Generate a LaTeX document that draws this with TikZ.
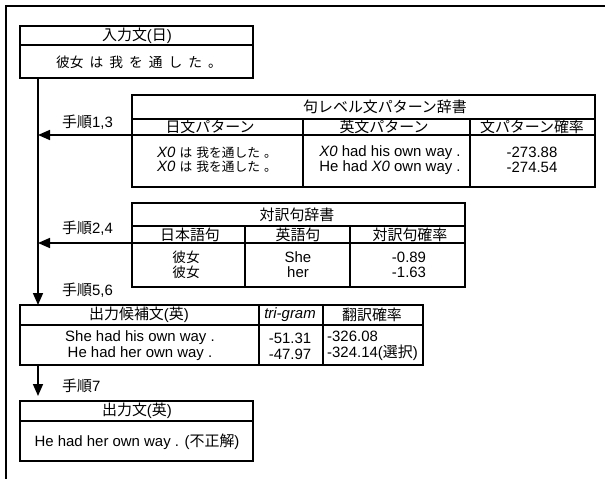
\documentclass[tikz,border=0pt]{standalone}
\usepackage{fontspec}
\setmainfont{Liberation Sans}
\newfontfamily\jp{Noto Sans CJK JP}
\newfontfamily\jps[Scale=0.92]{Noto Sans CJK JP}
\newfontfamily\jpt[Scale=0.85]{Noto Sans CJK JP}
\usetikzlibrary{arrows.meta}
\newcommand{\J}[1]{{\jp #1}}
\newcommand{\Js}[1]{{\jps #1}}
\newcommand{\Jt}[1]{{\jpt #1}}
\newcommand{\gapx}{\hspace{6bp}}
\begin{document}
\begin{tikzpicture}[x=1bp,y=-1bp,
  box/.style={draw,line width=1.7bp,inner sep=0,outer sep=0,anchor=north west},
  sepline/.style={line width=2bp},
  colline/.style={line width=1.6bp},
  txt/.style={inner sep=0,font=\fontsize{15}{16}\selectfont},
  arr/.style={line width=1.6bp,-{Triangle[length=12bp,width=10bp]}}]
\useasboundingbox (0,0) rectangle (605,479);
% outer frame
\draw[line width=2.2bp] (6,479) -- (6,6) -- (605,6);
% input box
\node[box,minimum width=233bp,minimum height=52bp] (inbox) at (20,26) {};
\draw[sepline] (20,45) -- (253,45);
\node[txt] (intitle) at (137,36) {\J{入力文}(\J{日})};
\node[txt] (intext) at (139,62) {\Js{彼女}\gapx\Js{は}\gapx\Js{我}\gapx\Js{を}\gapx\Js{通}\gapx\Js{し}\gapx\Js{た}\gapx\Js{。}};
% table 1
\node[box,minimum width=463bp,minimum height=92bp] (t1) at (132,95) {};
\draw[sepline] (132,119) -- (595,119);
\draw[colline] (132,135) -- (595,135);
\draw[colline] (303,119) -- (303,187);
\draw[colline] (470,119) -- (470,187);
\node[txt] (t1title) at (385,107) {\J{句レベル文パターン辞書}};
\node[txt] (t1h1) at (210,127) {\J{日文パターン}};
\node[txt] (t1h2) at (384,127) {\J{英文パターン}};
\node[txt] (t1h3) at (532,127) {\J{文パターン確率}};
\node[txt,align=center,font=\fontsize{15}{14.5}\selectfont] (t1c1) at (217,160) {{\itshape X0} \Jt{は} \Jt{我を通した} \Jt{。}\\{\itshape X0} \Jt{は} \Jt{我を通した} \Jt{。}};
\node[txt,align=center,font=\fontsize{15}{14.5}\selectfont] (t1c2) at (390,160) {{\itshape X0} had his own way .\\He had {\itshape X0} own way .};
\node[txt,align=center,font=\fontsize{15}{14.5}\selectfont] (t1c3) at (532,160) {-273.88\\-274.54};
% table 2
\node[box,minimum width=333bp,minimum height=84bp] (t2) at (132,203) {};
\draw[sepline] (132,226) -- (465,226);
\draw[colline] (132,243) -- (465,243);
\draw[colline] (245,226) -- (245,287);
\draw[colline] (350,226) -- (350,287);
\node[txt] (t2title) at (297,215) {\J{対訳句辞書}};
\node[txt] (t2h1) at (190,235) {\J{日本語句}};
\node[txt] (t2h2) at (298,235) {\J{英語句}};
\node[txt] (t2h3) at (410,235) {\J{対訳句確率}};
\node[txt,align=center,font=\fontsize{15}{15}\selectfont] (t2c1) at (186,265) {\Js{彼女}\\\Js{彼女}};
\node[txt,align=center,font=\fontsize{15}{15}\selectfont] (t2c2) at (298,265) {She\\her};
\node[txt,align=center,font=\fontsize{15}{15}\selectfont] (t2c3) at (409,265) {-0.89\\-1.63};
% table 3
\node[box,minimum width=403bp,minimum height=60bp] (t3) at (20,305) {};
\draw[sepline] (20,325) -- (423,325);
\draw[colline] (259,305) -- (259,365);
\draw[colline] (323,305) -- (323,365);
\node[txt] (t3h1) at (139,315) {\J{出力候補文}(\J{英})};
\node[txt] (t3h2) at (290,315) {\itshape tri-gram};
\node[txt] (t3h3) at (372,315) {\J{翻訳確率}};
\node[txt,align=center] (t3c1) at (140,346) {She had his own way .\\He had her own way .};
\node[txt,align=center] (t3c2) at (290,346) {-51.31\\-47.97};
\node[txt,align=left,anchor=west] (t3c3) at (327,346) {-326.08\\-324.14(\J{選択})};
% output box
\node[box,minimum width=233bp,minimum height=60bp] (outbox) at (20,401) {};
\draw[sepline] (20,421) -- (253,421);
\node[txt] (outtitle) at (137,411) {\J{出力文}(\J{英})};
\node[txt] (outtext) at (137,442) {He had her own way . (\J{不正解})};
% connectors
\coordinate (h1) at (38,135);
\coordinate (h2) at (38,243);
\coordinate (h3) at (38,396);
\draw[arr] ([xshift=18bp]inbox.south west) -- ([xshift=18bp]t3.north west);
\draw[arr] (t1.west |- h1) -- (h1);
\draw[arr] (t2.west |- h2) -- (h2);
\draw[arr] ([xshift=18bp]t3.south west) -- (h3);
% step labels
\node[txt,anchor=west] (s13) at (62,122) {\J{手順}1,3};
\node[txt,anchor=west] (s24) at (62,228) {\J{手順}2,4};
\node[txt,anchor=west] (s56) at (62,290) {\J{手順}5,6};
\node[txt,anchor=west] (s7) at (62,386) {\J{手順}7};
\end{tikzpicture}
\end{document}
